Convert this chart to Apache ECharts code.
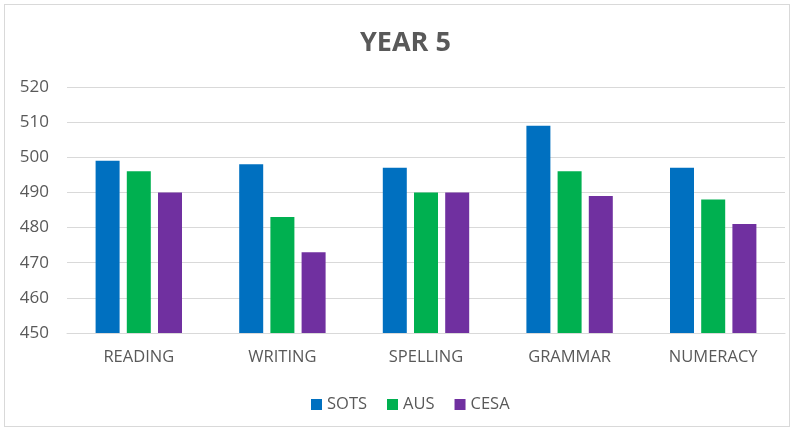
<!DOCTYPE html>
<html><head><meta charset="utf-8">
<script src="https://cdn.jsdelivr.net/npm/echarts@6/dist/echarts.min.js"></script>
<style>html,body{margin:0;padding:0;background:#fff}#c{width:795px;height:432px}
#frame{position:absolute;left:4px;top:4px;width:786px;height:423px;border:1px solid #d9d9d9;box-sizing:border-box;pointer-events:none}</style>
</head><body><div id="c"></div><div id="frame"></div>
<script>
const categories = ["READING", "WRITING", "SPELLING", "GRAMMAR", "NUMERACY"];
const sots = [499, 498, 497, 509, 497];
const aus = [496, 483, 490, 496, 488];
const cesa = [490, 473, 490, 489, 481];
const yTicks = {min: 450, max: 520, interval: 10};
const font = "Open Sans";
const chart = echarts.init(document.getElementById('c'));
chart.setOption({
  animation: false,
  title: {text: "YEAR 5", left: 355, top: 25, textStyle: {fontFamily: font, fontSize: 27, fontWeight: 'bold', color: '#595959'}},
  legend: {bottom: 14, left: 306, itemWidth: 11, itemHeight: 11, itemGap: 20, icon: 'rect',
    textStyle: {fontFamily: font, fontSize: 16.5, color: '#595959'},
    data: ["SOTS", "AUS", "CESA"]},
  grid: {left: 67, right: 10, top: 87, bottom: 99},
  xAxis: {type: 'category', data: categories,
    axisLine: {lineStyle: {color: '#d9d9d9'}}, axisTick: {show: false},
    axisLabel: {fontFamily: font, fontSize: 16.5, color: '#595959', margin: 16}},
  yAxis: {type: 'value', min: yTicks.min, max: yTicks.max, interval: yTicks.interval,
    axisLine: {show: false}, axisTick: {show: false},
    splitLine: {lineStyle: {color: '#d9d9d9', width: 1}},
    axisLabel: {fontFamily: font, fontSize: 17, color: '#595959', margin: 18}},
  series: [
    {name: "SOTS", type: 'bar', data: sots, itemStyle: {color: '#0070C0'}, barWidth: 24, barGap: '30%'},
    {name: "AUS", type: 'bar', data: aus, itemStyle: {color: '#00B050'}, barWidth: 24, barGap: '30%'},
    {name: "CESA", type: 'bar', data: cesa, itemStyle: {color: '#7030A0'}, barWidth: 24, barGap: '30%'}
  ]
});
</script></body></html>
